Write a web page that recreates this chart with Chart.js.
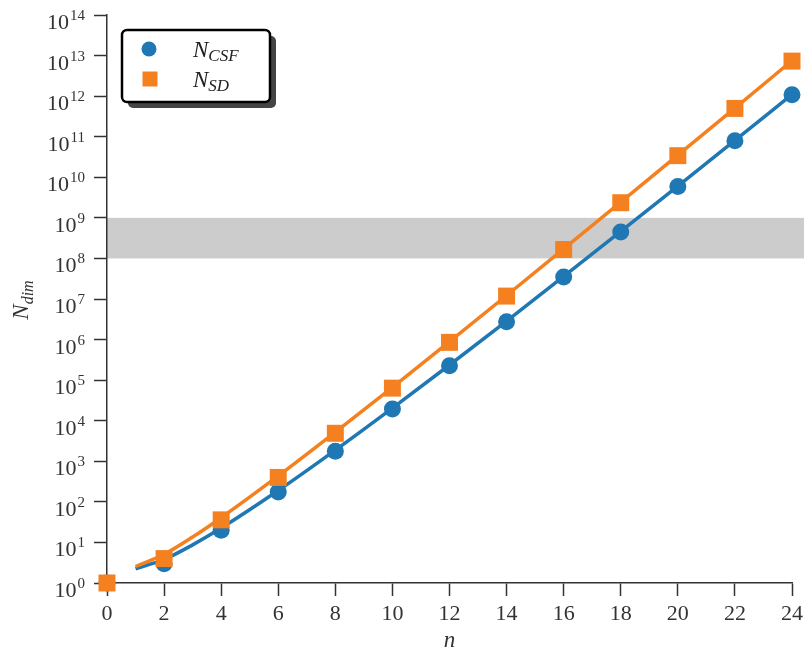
<!DOCTYPE html>
<html>
<head>
<meta charset="utf-8">
<script src="https://cdn.jsdelivr.net/npm/chart.js@4.4.1/dist/chart.umd.min.js"></script>
<style>
  body { margin: 0; background: #fff; }
  #wrap { width: 804px; height: 652px; position: relative; }
</style>
</head>
<body>
<div id="wrap"><canvas id="myChart"></canvas></div>
<script>
// number of electrons / orbitals
var nPoints = [0, 2, 4, 6, 8, 10, 12, 14, 16, 18, 20, 22, 24];
var csfPoints = [1, 3, 20, 175, 1764, 19404, 226512, 2.76e6, 3.48e7, 4.49e8, 5.92e9, 7.95e10, 1.08e12];
var sdPoints = [1, 4, 36, 400, 4900, 63504, 853776, 1.18e7, 1.66e8, 2.36e9, 3.41e10, 4.98e11, 7.31e12];

// smooth curves
var nCurve = [1, 2, 3, 4, 6, 8, 10, 12, 14, 16, 18, 20, 22, 24];
var csfCurve = [2.25, 3.8, 8.7, 22.6, 190, 1880, 20400, 236000, 2.86e6, 3.59e7, 4.62e8, 6.07e9, 8.13e10, 1.1e12];
var sdCurve = [2.55, 5.1, 13.6, 40.7, 435, 5215, 66800, 890000, 1.22e7, 1.71e8, 2.43e9, 3.5e10, 5.09e11, 7.47e12];

var seriesNames = ['N_CSF', 'N_SD'];
var yTickExps = [0, 1, 2, 3, 4, 5, 6, 7, 8, 9, 10, 11, 12, 13, 14];
var bandRange = [1e8, 1e9];

var blue = '#1f77b4';
var orange = '#f5801f';
var axisColor = '#333333';
var serif = "'Liberation Serif', 'DejaVu Serif', serif";

function xy(xs, ys) {
    return xs.map(function(x, i) { return {x: x, y: ys[i]}; });
}

var bandPlugin = {
    id: 'band',
    beforeDraw: function(chart) {
        var ctx = chart.ctx;
        var y = chart.scales.y;
        var top = y.getPixelForValue(bandRange[1]);
        var bottom = y.getPixelForValue(bandRange[0]);
        ctx.save();
        ctx.fillStyle = '#cccccc';
        ctx.fillRect(chart.chartArea.left, top, chart.width - chart.chartArea.left, bottom - top);
        ctx.restore();
    }
};

var labelsPlugin = {
    id: 'labels',
    afterDraw: function(chart) {
        var ctx = chart.ctx;
        var ys = chart.scales.y;
        ctx.save();
        ctx.fillStyle = axisColor;
        ctx.textBaseline = 'alphabetic';
        // y tick labels 10^k
        yTickExps.forEach(function(e) {
            var py = ys.getPixelForValue(Math.pow(10, e));
            var right = 85;
            ctx.font = '15px ' + serif;
            ctx.textAlign = 'right';
            var ew = ctx.measureText(String(e)).width;
            ctx.fillText(String(e), right, py + 5);
            ctx.font = '22px ' + serif;
            ctx.fillText('10', right - ew - 1, py + 14);
        });

        // y axis title N_dim
        ctx.save();
        ctx.translate(28, 300);
        ctx.rotate(-Math.PI / 2);
        ctx.textAlign = 'left';
        ctx.font = 'italic 23px ' + serif;
        var nw = ctx.measureText('N').width;
        ctx.font = 'italic 16px ' + serif;
        var dw = ctx.measureText('dim').width;
        var x0 = -(nw + dw) / 2;
        ctx.font = 'italic 23px ' + serif;
        ctx.fillText('N', x0, 0);
        ctx.font = 'italic 16px ' + serif;
        ctx.fillText('dim', x0 + nw, 5);
        ctx.restore();

        // x axis title n
        ctx.font = 'italic 23px ' + serif;
        ctx.textAlign = 'center';
        ctx.fillText('n', (chart.chartArea.left + chart.chartArea.right) / 2, 647);

        // legend with shadow
        var lx = 122, ly = 30, lw = 148, lh = 72;
        ctx.fillStyle = '#444444';
        ctx.beginPath();
        ctx.roundRect(lx + 6, ly + 6, lw, lh, 5);
        ctx.fill();
        ctx.fillStyle = '#ffffff';
        ctx.strokeStyle = '#000000';
        ctx.lineWidth = 2.5;
        ctx.beginPath();
        ctx.roundRect(lx, ly, lw, lh, 5);
        ctx.fill();
        ctx.stroke();

        var rows = [
            {y: 49, color: blue, shape: 'circle', name: seriesNames[0]},
            {y: 79, color: orange, shape: 'rect', name: seriesNames[1]}
        ];
        rows.forEach(function(r) {
            ctx.fillStyle = r.color;
            ctx.beginPath();
            if (r.shape === 'circle') {
                ctx.arc(149, r.y, 7.5, 0, Math.PI * 2);
            } else {
                ctx.rect(142.5, r.y - 7.5, 15, 15);
            }
            ctx.fill();
            var parts = r.name.split('_');
            ctx.fillStyle = '#222222';
            ctx.textAlign = 'left';
            ctx.font = 'italic 23px ' + serif;
            ctx.fillText(parts[0], 193, r.y + 8);
            var w = ctx.measureText(parts[0]).width;
            ctx.font = 'italic 17px ' + serif;
            ctx.fillText(parts[1], 193 + w, r.y + 12);
        });
        ctx.restore();
    }
};

var ctx = document.getElementById('myChart').getContext('2d');
var myChart = new Chart(ctx, {
    type: 'scatter',
    data: {
        datasets: [
            {
                label: seriesNames[1],
                data: xy(nPoints, sdPoints),
                backgroundColor: orange,
                pointStyle: 'rect',
                pointRadius: 12,
                pointBorderWidth: 0,
                showLine: false,
                clip: false,
                order: 0
            },
            {
                label: seriesNames[1] + ' curve',
                data: xy(nCurve, sdCurve),
                borderColor: orange,
                borderWidth: 3.5,
                pointRadius: 0,
                showLine: true,
                cubicInterpolationMode: 'monotone',
                clip: false,
                order: 1
            },
            {
                label: seriesNames[0],
                data: xy(nPoints, csfPoints),
                backgroundColor: blue,
                pointStyle: 'circle',
                pointRadius: 8.5,
                pointBorderWidth: 0,
                showLine: false,
                clip: false,
                order: 2
            },
            {
                label: seriesNames[0] + ' curve',
                data: xy(nCurve, csfCurve),
                borderColor: blue,
                borderWidth: 3.5,
                pointRadius: 0,
                showLine: true,
                cubicInterpolationMode: 'monotone',
                clip: false,
                order: 3
            }
        ]
    },
    plugins: [bandPlugin, labelsPlugin],
    options: {
        responsive: true,
        maintainAspectRatio: false,
        animation: false,
        events: [],
        layout: { padding: { left: 0, top: 15, right: 11, bottom: 0 } },
        plugins: {
            legend: { display: false },
            tooltip: { enabled: false }
        },
        scales: {
            x: {
                type: 'linear',
                min: 0,
                max: 24,
                afterFit: function(scale) {
                    scale.height = 69;
                    scale.paddingLeft = 0;
                    scale.paddingRight = 0;
                },
                ticks: {
                    stepSize: 2,
                    color: axisColor,
                    font: { family: serif, size: 22 },
                    padding: 5
                },
                grid: {
                    drawOnChartArea: false,
                    tickLength: 13,
                    tickWidth: 1.5,
                    tickColor: axisColor
                },
                border: { color: axisColor, width: 1.5 }
            },
            y: {
                type: 'logarithmic',
                min: 1,
                max: 1e14,
                afterFit: function(scale) {
                    scale.width = 107;
                    scale.paddingTop = 0;
                    scale.paddingBottom = 0;
                },
                afterBuildTicks: function(scale) {
                    scale.ticks = yTickExps.map(function(e) { return {value: Math.pow(10, e)}; });
                },
                ticks: {
                    callback: function() { return ''; }
                },
                grid: {
                    drawOnChartArea: false,
                    tickLength: 13,
                    tickWidth: 1.5,
                    tickColor: axisColor
                },
                border: { color: axisColor, width: 1.5 }
            }
        }
    }
});
</script>
</body>
</html>
